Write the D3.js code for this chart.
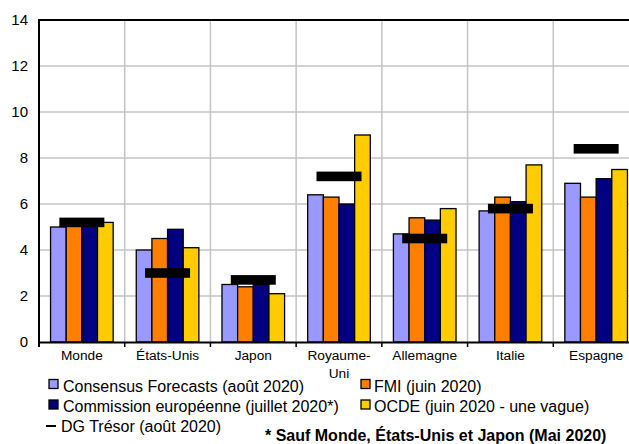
<!DOCTYPE html>
<html>
<head>
<meta charset="utf-8">
<script src="https://cdn.jsdelivr.net/npm/d3@7/dist/d3.min.js"></script>
<style>
  html, body { margin: 0; padding: 0; background: #fff; }
  svg { display: block; font-family: "Liberation Sans", Arial, sans-serif; }
</style>
</head>
<body>
<svg id="chart" width="629" height="444"></svg>
<script>
// Prévisions de croissance 2021 (%)
const categories = ["Monde", "États-Unis", "Japon", "Royaume-Uni", "Allemagne", "Italie", "Espagne"];
const categoryLines = [["Monde"], ["États-Unis"], ["Japon"], ["Royaume-", "Uni"], ["Allemagne"], ["Italie"], ["Espagne"]];

const seriesNames = [
  "Consensus Forecasts (août 2020)",
  "FMI (juin 2020)",
  "Commission européenne (juillet 2020*)",
  "OCDE (juin 2020 - une vague)"
];
const seriesColors = ["#9999ff", "#ff8000", "#000080", "#ffcc00"];

const consensus = [5.0, 4.0, 2.5, 6.4, 4.7, 5.7, 6.9];
const fmi       = [5.3, 4.5, 2.4, 6.3, 5.4, 6.3, 6.3];
const commission= [5.2, 4.9, 2.5, 6.0, 5.3, 6.1, 7.1];
const ocde      = [5.2, 4.1, 2.1, 9.0, 5.8, 7.7, 7.5];
const dgTresor  = [5.2, 3.0, 2.7, 7.2, 4.5, 5.8, 8.4];
const dgTresorName = "DG Trésor (août 2020)";

const yTicks = [0, 2, 4, 6, 8, 10, 12, 14];
const footnote = "* Sauf Monde, États-Unis et Japon (Mai 2020)";

const seriesValues = [consensus, fmi, commission, ocde];

const svg = d3.select("#chart");
const plot = { left: 39, right: 639, top: 20, bottom: 342 };

const x0 = d3.scaleBand().domain(categories).range([plot.left, plot.right]).paddingInner(0).paddingOuter(0);
const x1 = d3.scaleBand().domain(d3.range(seriesNames.length)).range([0, x0.bandwidth()]).paddingInner(0).paddingOuter(0.738);
const y = d3.scaleLinear().domain([0, 14]).range([plot.bottom, plot.top]);

// grille
const grid = svg.append("g");
grid.selectAll("line.h").data(yTicks.filter(t => t > 0 && t < 14)).join("line")
  .attr("x1", plot.left).attr("x2", plot.right)
  .attr("y1", d => y(d)).attr("y2", d => y(d))
  .attr("stroke", "#c4c4c4").attr("stroke-width", 1.5);
grid.selectAll("line.v").data(categories.slice(1)).join("line")
  .attr("x1", d => x0(d)).attr("x2", d => x0(d))
  .attr("y1", plot.top).attr("y2", plot.bottom)
  .attr("stroke", "#c4c4c4").attr("stroke-width", 1.5);

// barres
const groups = svg.append("g").selectAll("g").data(categories).join("g")
  .attr("transform", d => `translate(${x0(d)},0)`);
groups.selectAll("rect").data((d, i) => seriesValues.map((vals, s) => ({ s, v: vals[i] }))).join("rect")
  .attr("x", d => x1(d.s))
  .attr("width", x1.bandwidth())
  .attr("y", d => y(d.v))
  .attr("height", d => y(0) - y(d.v))
  .attr("fill", d => seriesColors[d.s])
  .attr("stroke", "#000").attr("stroke-width", 1.3);

// marqueurs DG Trésor
const markW = 45, markH = 9.6;
svg.append("g").selectAll("rect").data(categories).join("rect")
  .attr("x", d => x0(d) + x0.bandwidth() / 2 - markW / 2)
  .attr("y", (d, i) => y(dgTresor[i]) - markH / 2)
  .attr("width", markW).attr("height", markH)
  .attr("fill", "#000");

// cadre et axes
svg.append("line").attr("x1", plot.left).attr("x2", 629).attr("y1", plot.top).attr("y2", plot.top)
  .attr("stroke", "#000").attr("stroke-width", 2);
svg.append("line").attr("x1", plot.left).attr("x2", plot.left).attr("y1", plot.top - 1).attr("y2", plot.bottom + 5)
  .attr("stroke", "#000").attr("stroke-width", 2);

const xAxis = svg.append("g").attr("transform", `translate(0,${plot.bottom})`)
  .call(d3.axisBottom(x0).tickSize(0).tickFormat(""));
xAxis.select(".domain").attr("stroke", "#000").attr("stroke-width", 2);
svg.append("g").selectAll("line").data(categories.slice(1)).join("line")
  .attr("x1", d => x0(d)).attr("x2", d => x0(d))
  .attr("y1", plot.bottom).attr("y2", plot.bottom + 5)
  .attr("stroke", "#000").attr("stroke-width", 1.5);

// étiquettes de catégories
const xl = svg.append("g").attr("font-size", "13.7px").attr("fill", "#000").attr("text-anchor", "middle");
categories.forEach((c, i) => {
  categoryLines[i].forEach((line, k) => {
    xl.append("text")
      .attr("x", x0(c) + x0.bandwidth() / 2)
      .attr("y", 360 + k * 18)
      .text(line);
  });
});

// étiquettes de l'axe vertical
const yAxis = svg.append("g").attr("transform", `translate(${plot.left},0)`)
  .call(d3.axisLeft(y).tickValues(yTicks).tickSize(0).tickPadding(11).tickFormat(d3.format("d")));
yAxis.select(".domain").remove();
yAxis.selectAll("text").attr("font-size", "15px").attr("font-family", "Liberation Sans, Arial, sans-serif").attr("fill", "#000");

// légende
const leg = svg.append("g").attr("font-size", "16px").attr("fill", "#000");
const legPos = [
  { sx: 49, tx: 63, base: 391.5 },
  { sx: 361, tx: 374, base: 391.5 },
  { sx: 49, tx: 63, base: 412 },
  { sx: 361, tx: 374, base: 412 }
];
seriesNames.forEach((name, s) => {
  const p = legPos[s];
  leg.append("rect").attr("x", p.sx).attr("y", p.base - 12).attr("width", 9).attr("height", 9)
    .attr("fill", seriesColors[s]).attr("stroke", "#000").attr("stroke-width", 1.3);
  leg.append("text").attr("x", p.tx).attr("y", p.base).text(name);
});
leg.append("line").attr("x1", 46).attr("x2", 56).attr("y1", 426).attr("y2", 426)
  .attr("stroke", "#000").attr("stroke-width", 2);
leg.append("text").attr("x", 61).attr("y", 432).text(dgTresorName);

svg.append("text").attr("x", 265).attr("y", 441)
  .attr("font-size", "16px").attr("font-weight", "bold").attr("fill", "#000")
  .text(footnote);
</script>
</body>
</html>
